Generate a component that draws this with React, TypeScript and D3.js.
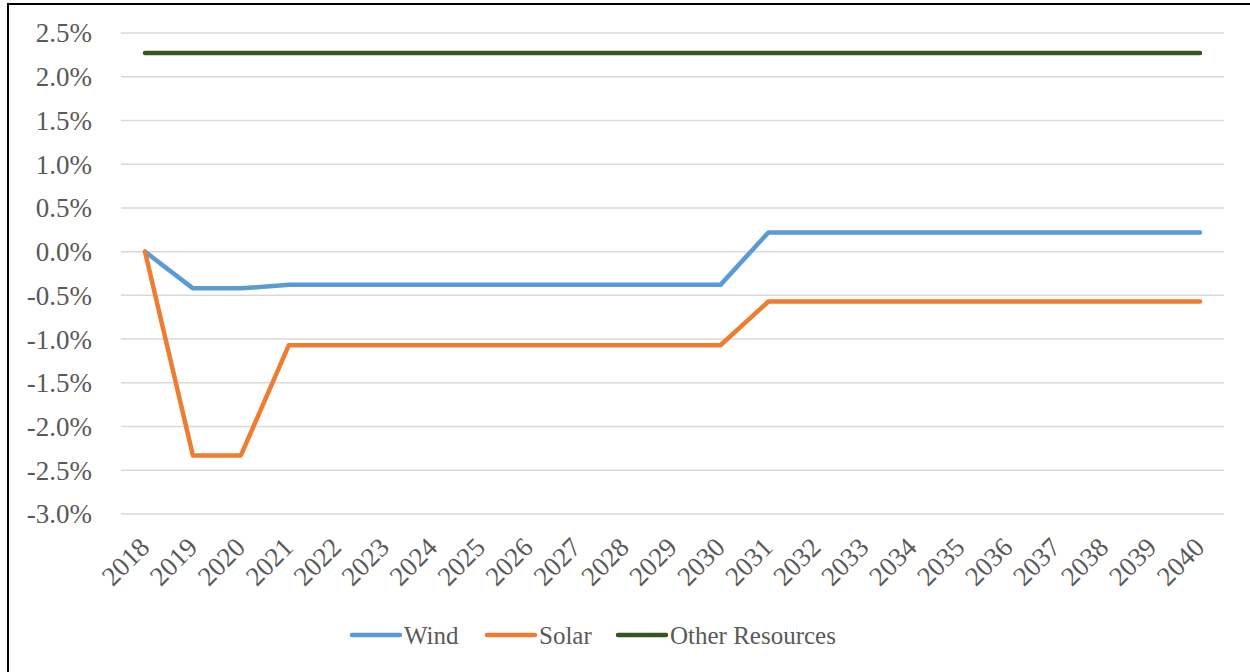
import React from "react";
import * as d3 from "d3";

const years = ["2018","2019","2020","2021","2022","2023","2024","2025","2026","2027","2028","2029","2030","2031","2032","2033","2034","2035","2036","2037","2038","2039","2040"];
const wind = [0, -0.42, -0.42, -0.38, -0.38, -0.38, -0.38, -0.38, -0.38, -0.38, -0.38, -0.38, -0.38, 0.22, 0.22, 0.22, 0.22, 0.22, 0.22, 0.22, 0.22, 0.22, 0.22];
const solar = [0, -2.33, -2.33, -1.07, -1.07, -1.07, -1.07, -1.07, -1.07, -1.07, -1.07, -1.07, -1.07, -0.57, -0.57, -0.57, -0.57, -0.57, -0.57, -0.57, -0.57, -0.57, -0.57];
const other = [2.27, 2.27, 2.27, 2.27, 2.27, 2.27, 2.27, 2.27, 2.27, 2.27, 2.27, 2.27, 2.27, 2.27, 2.27, 2.27, 2.27, 2.27, 2.27, 2.27, 2.27, 2.27, 2.27];
const yTicks = [2.5, 2.0, 1.5, 1.0, 0.5, 0.0, -0.5, -1.0, -1.5, -2.0, -2.5, -3.0];
const seriesNames = ["Wind", "Solar", "Other Resources"];
const seriesColors = ["#5B9BD5", "#ED7D31", "#375623"];

export default function App() {
  const W = 1250, H = 672;
  const x = d3.scalePoint<string>().domain(years).range([121, 1224]).padding(0.5);
  const y = d3.scaleLinear().domain([-3, 2.5]).range([514, 33]);
  const line = d3.line<number>().x((_, i) => x(years[i])!).y((d) => y(d));
  const series = [wind, solar, other];
  const font = "'Liberation Serif', 'Times New Roman', serif";
  const legendX = [352, 487, 618];
  const fmt = (t: number) => t.toFixed(1) + "%";
  return (
    <div style={{ position: "absolute", left: 0, top: 0 }}>
      <svg width={W} height={H} style={{ display: "block", background: "#fff" }}>
        <line x1={7} x2={W} y1={4} y2={4} stroke="#000" strokeWidth={2} />
        <line x1={8} x2={8} y1={3} y2={H} stroke="#000" strokeWidth={2} />
        {yTicks.map((t) => (
          <line key={t} x1={121} x2={1224} y1={y(t)} y2={y(t)} stroke="#D9D9D9" strokeWidth={1.5} />
        ))}
        {yTicks.map((t) => (
          <text key={"l" + t} x={92} y={y(t)} dy="0.35em" textAnchor="end" fontFamily={font} fontSize={27} fill="#595959">
            {fmt(t)}
          </text>
        ))}
        {years.map((yr) => (
          <text key={yr} transform={`translate(${x(yr)! + 6},${549}) rotate(-45)`} textAnchor="end" fontFamily={font} fontSize={27} fill="#595959">
            {yr}
          </text>
        ))}
        {series.map((s, i) => (
          <path key={i} d={line(s)!} fill="none" stroke={seriesColors[i]} strokeWidth={4.5} strokeLinejoin="round" strokeLinecap="round" />
        ))}
        {seriesNames.map((n, i) => (
          <g key={n}>
            <line x1={legendX[i]} x2={legendX[i] + 48} y1={635} y2={635} stroke={seriesColors[i]} strokeWidth={4.5} strokeLinecap="round" />
            <text x={legendX[i] + 52} y={644} fontFamily={font} fontSize={25} fill="#595959">{n}</text>
          </g>
        ))}
      </svg>
    </div>
  );
}
